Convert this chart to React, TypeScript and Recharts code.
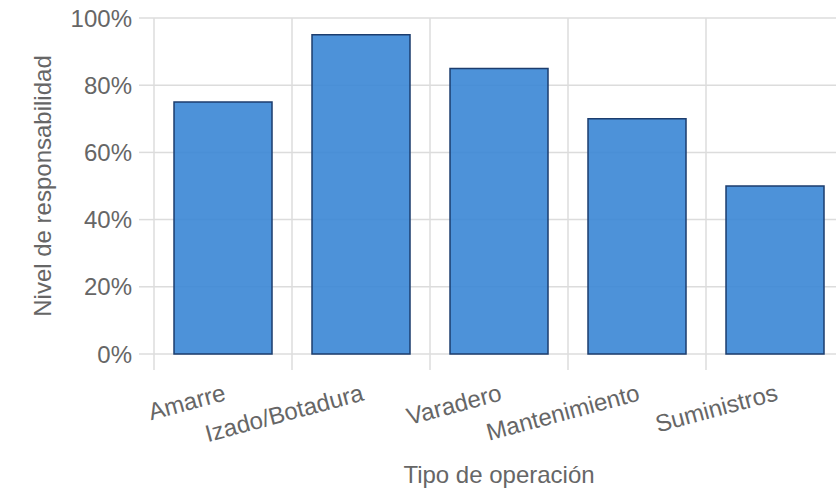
import { BarChart, Bar, XAxis, YAxis, CartesianGrid } from 'recharts';

const categories = ['Amarre', 'Izado/Botadura', 'Varadero', 'Mantenimiento', 'Suministros'];
const responsabilidad = [75, 95, 85, 70, 50];
const yTicks = [0, 20, 40, 60, 80, 100];

const data = categories.map((tipo, i) => ({ tipo, valor: responsabilidad[i] }));

const FONT = "'Liberation Sans', Arial, sans-serif";
const GRID = '#dcdcdc';
const TEXT = '#666666';

// category label sits at band center, tick mark at band start
function CategoryTick(props: any) {
  const { x, y, payload } = props;
  const half = payload?.offset ?? 69;
  const tx = x + 4;
  const ty = y + 46;
  return (
    <g>
      <line x1={x - half} x2={x - half} y1={y} y2={y + 16} stroke={GRID} strokeWidth={1.5} />
      <text
        x={tx}
        y={ty}
        textAnchor='end'
        fill={TEXT}
        fontSize={24}
        fontFamily={FONT}
        transform={`rotate(-15, ${tx}, ${ty})`}
      >
        {payload.value}
      </text>
    </g>
  );
}

// vertical grid lines at the category band edges
function bandEdges({ xAxis, offset }: any) {
  if (xAxis && typeof xAxis.scale === 'function') {
    return categories.map((c) => xAxis.scale(c));
  }
  const step = offset.width / categories.length;
  return categories.map((_, i) => offset.left + i * step);
}

export default function App() {
  return (
    <div style={{ position: 'absolute', left: 0, top: 0, width: 836, height: 490, overflow: 'hidden', background: '#fff' }}>
      <BarChart
        width={844}
        height={490}
        data={data}
        margin={{ top: 18, right: 0, left: 0, bottom: 0 }}
        barCategoryGap='14.5%'
        style={{ fontFamily: FONT }}
      >
        <CartesianGrid
          stroke={GRID}
          strokeWidth={1.5}
          verticalCoordinatesGenerator={bandEdges}
        />
        <XAxis
          dataKey='tipo'
          height={136}
          tickLine={false}
          axisLine={false}
          tickSize={0}
          tickMargin={0}
          interval={0}
          tick={<CategoryTick />}
          label={{
            value: 'Tipo de operación',
            position: 'insideBottom',
            offset: 7,
            fill: TEXT,
            fontSize: 24,
            fontFamily: FONT,
          }}
        />
        <YAxis
          width={154}
          domain={[0, 100]}
          ticks={yTicks}
          tickFormatter={(v) => `${v}%`}
          axisLine={false}
          tickSize={15}
          tickMargin={7}
          tickLine={{ stroke: GRID, strokeWidth: 1.5 }}
          tick={{ fill: TEXT, fontSize: 24, fontFamily: FONT }}
          label={{
            value: 'Nivel de responsabilidad',
            angle: -90,
            position: 'center',
            dx: -35,
            fill: TEXT,
            fontSize: 24,
            fontFamily: FONT,
          }}
        />
        <Bar
          dataKey='valor'
          fill='#3a86d5'
          fillOpacity={0.9}
          stroke='#1c3d6e'
          strokeWidth={1.5}
          isAnimationActive={false}
        />
      </BarChart>
    </div>
  );
}
